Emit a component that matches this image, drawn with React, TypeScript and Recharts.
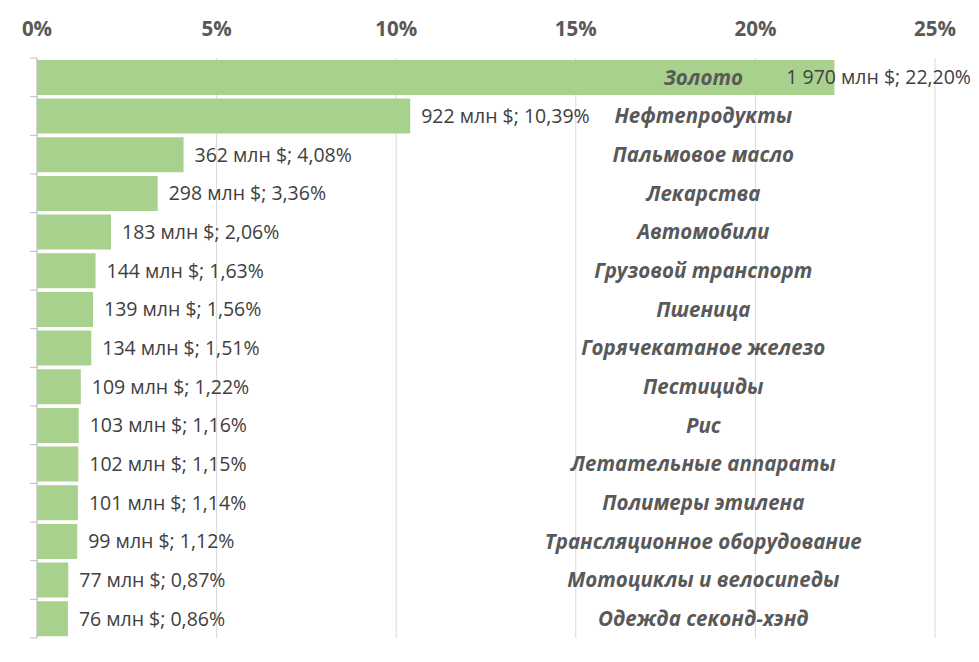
import { BarChart, Bar, XAxis, YAxis, CartesianGrid, LabelList } from "recharts";

const categories = [
  "Золото",
  "Нефтепродукты",
  "Пальмовое масло",
  "Лекарства",
  "Автомобили",
  "Грузовой транспорт",
  "Пшеница",
  "Горячекатаное железо",
  "Пестициды",
  "Рис",
  "Летательные аппараты",
  "Полимеры этилена",
  "Трансляционное оборудование",
  "Мотоциклы и велосипеды",
  "Одежда секонд-хэнд",
];
const shares = [22.2, 10.39, 4.08, 3.36, 2.06, 1.63, 1.56, 1.51, 1.22, 1.16, 1.15, 1.14, 1.12, 0.87, 0.86];
const millions = [1970, 922, 362, 298, 183, 144, 139, 134, 109, 103, 102, 101, 99, 77, 76];
const xTicks = [0, 5, 10, 15, 20, 25];

const data = categories.map((name, i) => ({
  name,
  share: shares[i],
  label: `${millions[i].toLocaleString("ru-RU").replace(/\s/g, " ")} млн $; ${shares[i].toFixed(2).replace(".", ",")}%`,
}));

const W = 979;
const H = 662;
const TOP = 58;
const BOTTOM = 24;
const LEFT = 37;
const RIGHT = 44;
const band = (H - TOP - BOTTOM) / categories.length;
const FONT = "'Open Sans', sans-serif";

// tick marks sit on the band edges, not the centers
const YTick = (props: any) => {
  const { y, index } = props;
  const top = y - band / 2;
  return (
    <g>
      <line x1={LEFT - 7} x2={LEFT} y1={top} y2={top} stroke="#bfbfbf" />
      {index === categories.length - 1 && (
        <line x1={LEFT - 7} x2={LEFT} y1={top + band} y2={top + band} stroke="#bfbfbf" />
      )}
    </g>
  );
};

const ValueLabel = (props: any) => {
  const { x, y, width, height, value } = props;
  let tx = x + width + 11;
  let anchor: "start" | "end" = "start";
  // no room past the bar end: pull it back against the right edge
  if (tx + 190 > W) {
    tx = W - 8;
    anchor = "end";
  }
  return (
    <text x={tx} y={y + height / 2} dy="0.35em" textAnchor={anchor} fontSize={19.5} fill="#404040" fontFamily={FONT}>
      {value}
    </text>
  );
};

const NameLabel = (props: any) => {
  const { y, height, value } = props;
  const cx = LEFT + (W - LEFT - RIGHT) * 0.742;
  return (
    <text x={cx} y={y + height / 2} dy="0.35em" textAnchor="middle" fontSize={20.5} fontWeight="bold" fontStyle="italic" fill="#595959" fontFamily={FONT}>
      {value}
    </text>
  );
};

export default function App() {
  return (
    <div style={{ position: "absolute", left: 0, top: 0, width: W, height: H, background: "#fff" }}>
      <BarChart
        width={W}
        height={H}
        data={data}
        layout="vertical"
        margin={{ top: 0, right: RIGHT, bottom: BOTTOM, left: 0 }}
        barCategoryGap="5%"
      >
        <CartesianGrid horizontal={false} vertical stroke="#d9d9d9" />
        <XAxis
          type="number"
          orientation="top"
          domain={[0, 25]}
          ticks={xTicks}
          tickFormatter={(v) => `${v}%`}
          height={TOP}
          axisLine={false}
          tickLine={false}
          tickSize={0}
          tickMargin={22}
          interval={0}
          tick={{ fontSize: 20.5, fontWeight: "bold", fill: "#595959", fontFamily: FONT }}
        />
        <YAxis
          type="category"
          dataKey="name"
          width={LEFT}
          axisLine={{ stroke: "#bfbfbf" }}
          tickLine={false}
          tick={<YTick />}
          interval={0}
        />
        <Bar dataKey="share" fill="#a9d18e" isAnimationActive={false}>
          <LabelList dataKey="label" content={<ValueLabel />} />
          <LabelList dataKey="name" content={<NameLabel />} />
        </Bar>
      </BarChart>
    </div>
  );
}
